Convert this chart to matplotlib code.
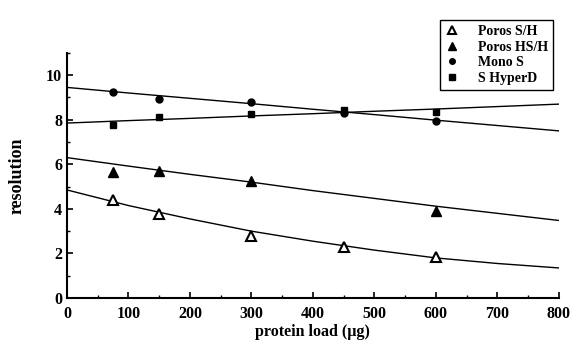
import numpy as np
import matplotlib
matplotlib.use("Agg")
import matplotlib.pyplot as plt

plt.rcParams['font.family'] = ['Liberation Serif', 'DejaVu Serif']

# measured points
load_ps = [75, 150, 300, 450, 600]
res_ps = [4.4, 3.75, 2.8, 2.3, 1.85]
load_phs = [75, 150, 300, 600]
res_phs = [5.65, 5.7, 5.25, 3.9]
load_mono = [75, 150, 300, 450, 600]
res_mono = [9.25, 8.95, 8.8, 8.3, 7.95]
load_hyp = [75, 150, 300, 450, 600]
res_hyp = [7.75, 8.1, 8.25, 8.45, 8.35]

# fitted curves
fit_x = [0, 100, 200, 300, 400, 500, 600, 700, 800]
fit_ps = [4.85, 4.15, 3.55, 3.0, 2.55, 2.15, 1.8, 1.55, 1.35]
fit_phs = [6.3, 5.92, 5.55, 5.2, 4.82, 4.47, 4.12, 3.8, 3.48]
fit_mono = [9.45, 9.2, 8.96, 8.72, 8.47, 8.23, 7.98, 7.74, 7.5]
fit_hyp = [7.85, 7.96, 8.06, 8.17, 8.27, 8.38, 8.48, 8.59, 8.7]

fig = plt.figure(figsize=(5.72, 3.41), dpi=100)
ax = fig.add_axes([0.117, 0.126, 0.86, 0.719])

for fy in [fit_ps, fit_phs, fit_mono, fit_hyp]:
    ax.plot(fit_x, fy, color='black', lw=1.0)

h1, = ax.plot(load_ps, res_ps, '^', ms=7, mfc='white', mec='black', mew=1.5, label='Poros S/H')
h2, = ax.plot(load_phs, res_phs, '^', ms=7, color='black', label='Poros HS/H')
h3, = ax.plot(load_mono, res_mono, 'o', ms=5, color='black', label='Mono S')
h4, = ax.plot(load_hyp, res_hyp, 's', ms=5, color='black', label='S HyperD')

ax.set_xlim(0, 800)
ax.set_ylim(0, 11)
ax.set_xticks(np.arange(0, 801, 100))
ax.set_xticks(np.arange(0, 801, 50), minor=True)
ax.set_yticks(np.arange(0, 11, 2))
ax.set_yticks(np.arange(0, 12, 1), minor=True)
ax.tick_params(direction='in', length=4, width=1.2, labelsize=11.5)
ax.tick_params(axis='x', pad=6)
ax.tick_params(which='minor', direction='in', length=2, width=1)
for lab in ax.get_xticklabels() + ax.get_yticklabels():
    lab.set_fontweight('bold')
ax.spines['top'].set_visible(False)
ax.spines['right'].set_visible(False)
ax.spines['left'].set_linewidth(1.5)
ax.spines['bottom'].set_linewidth(1.5)

ax.set_xlabel('protein load (\u00b5g)', fontweight='bold', fontsize=11.5, labelpad=1)
ax.set_ylabel('resolution', fontweight='bold', fontsize=13, labelpad=15)

leg = fig.legend(handles=[h1, h2, h3, h4], loc='upper left',
                 bbox_to_anchor=(0.757, 0.962), fancybox=False, framealpha=1,
                 edgecolor='black', prop={'weight': 'bold', 'size': 10},
                 handlelength=1.0, handletextpad=1.4, borderpad=0.35,
                 labelspacing=0.2, markerscale=0.8)
leg.get_frame().set_linewidth(1.0)

fig.savefig('out.png', dpi=100)
